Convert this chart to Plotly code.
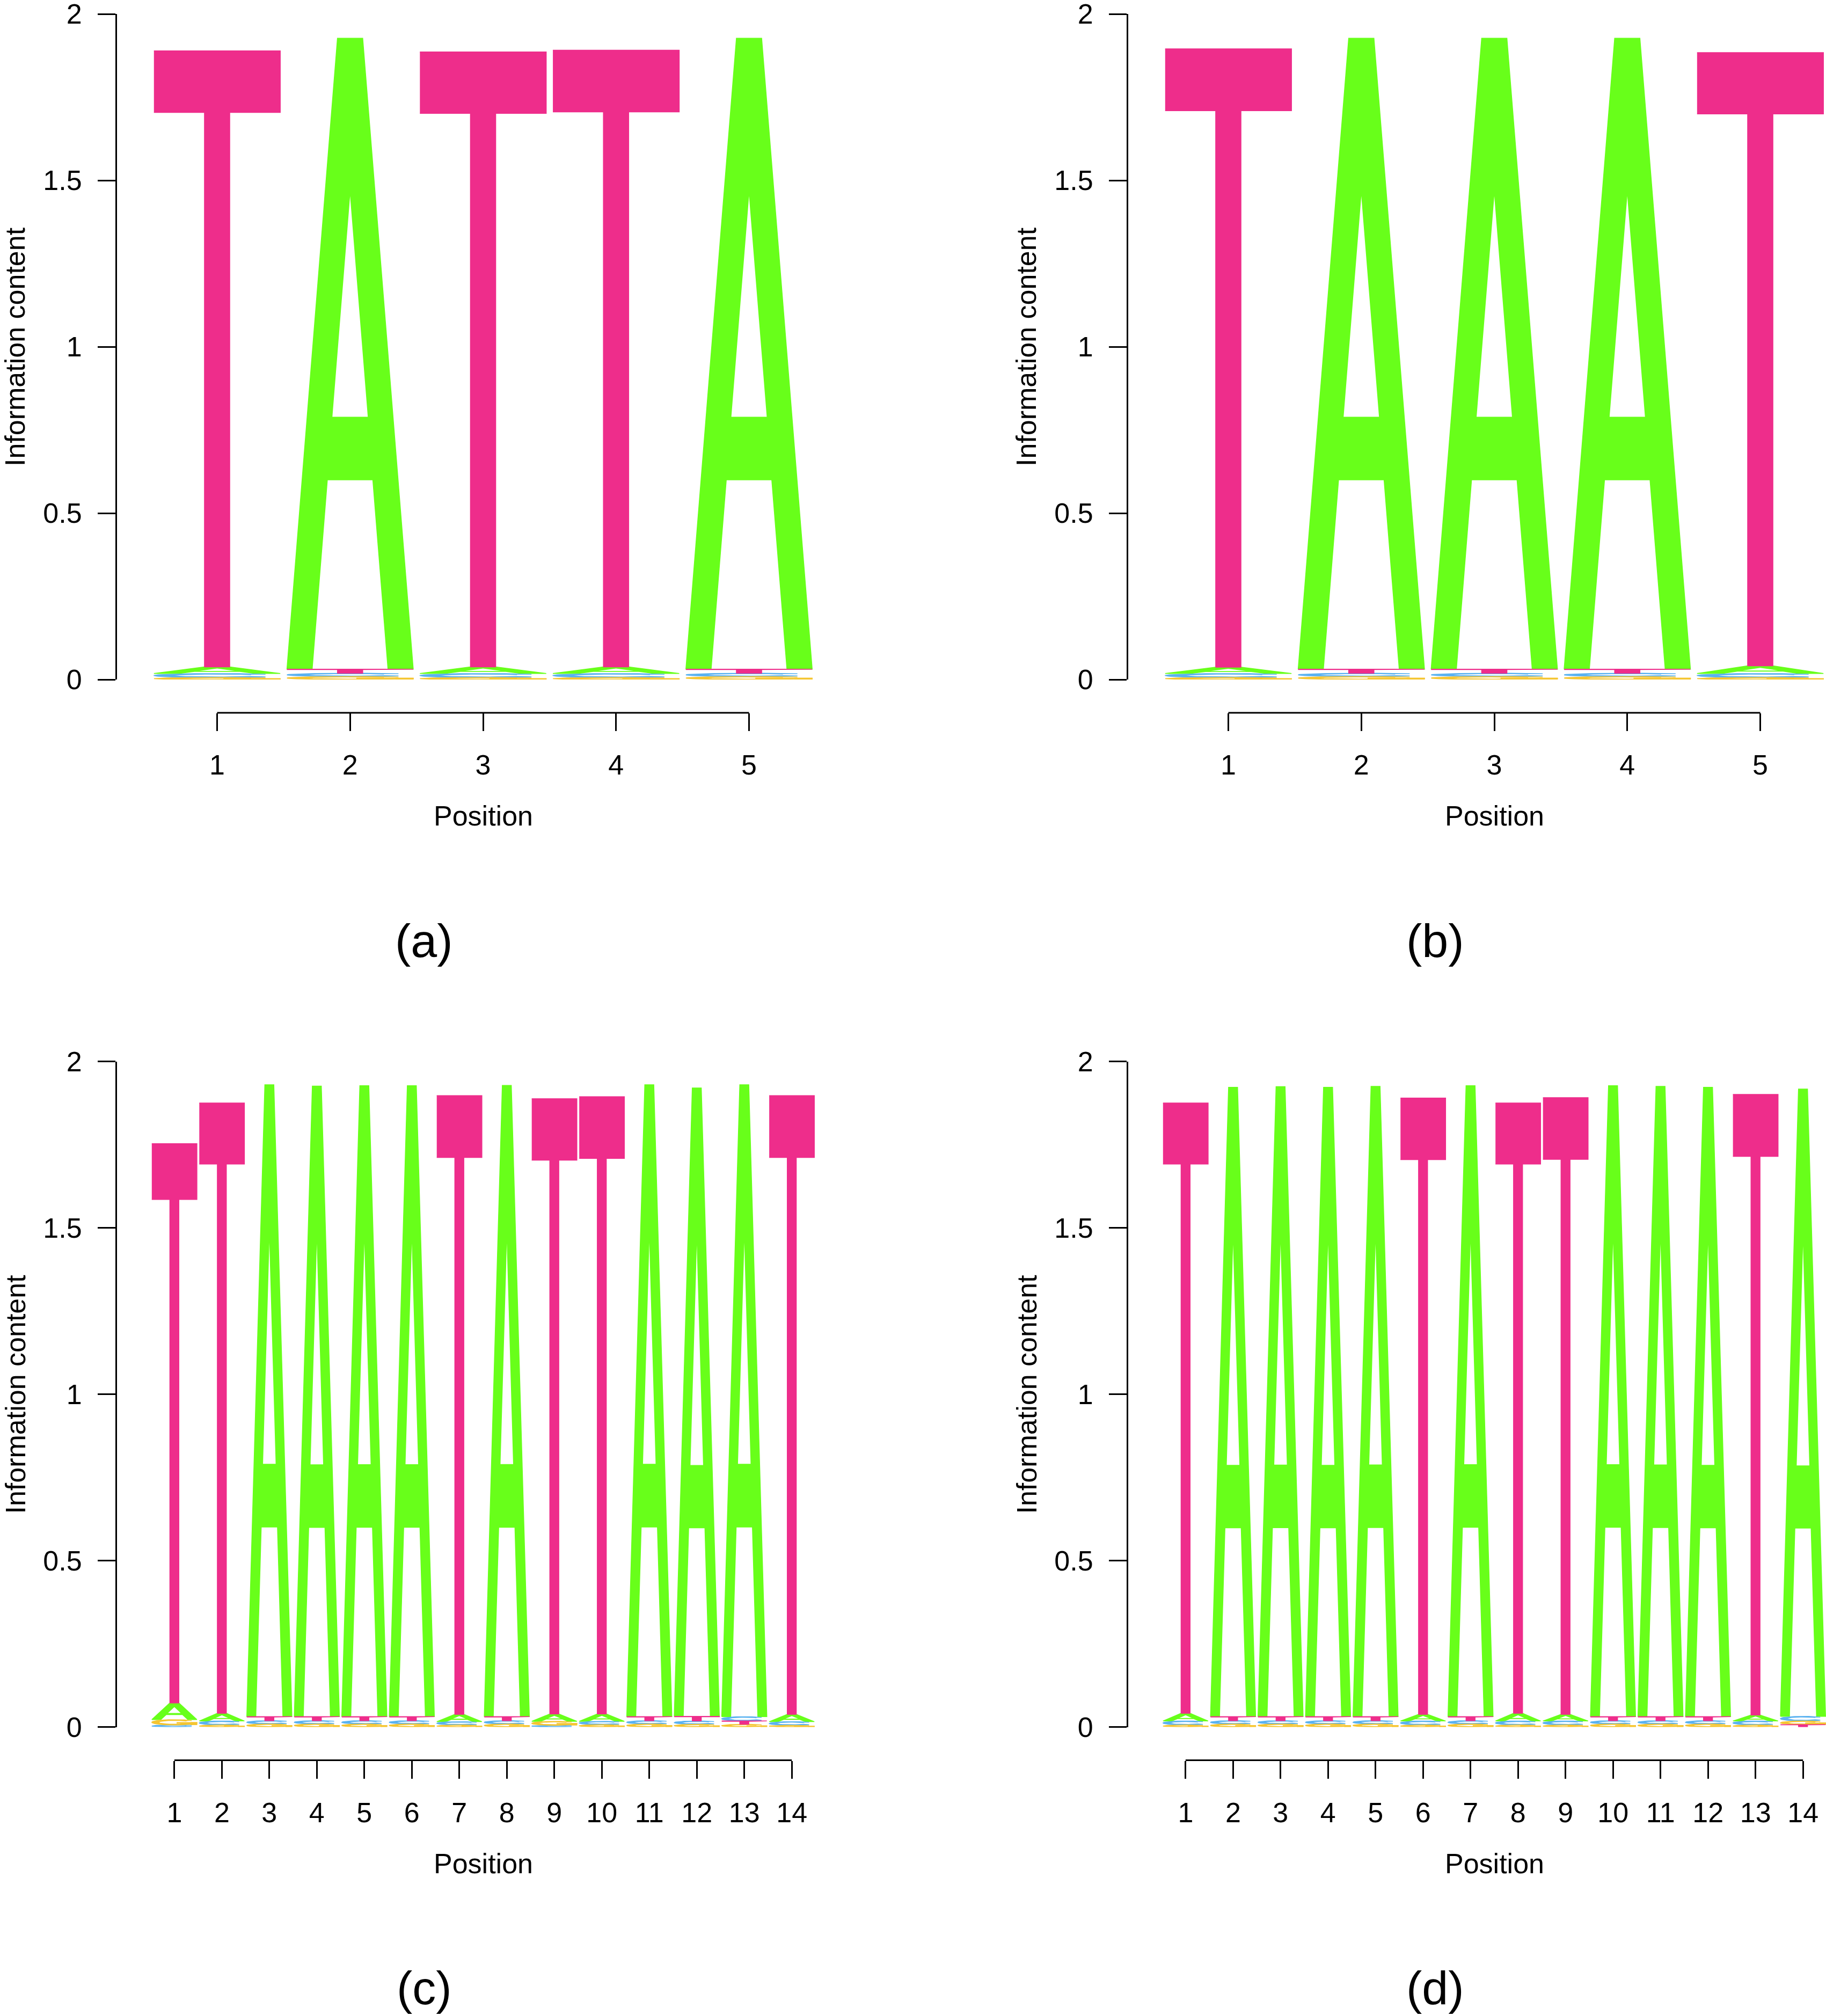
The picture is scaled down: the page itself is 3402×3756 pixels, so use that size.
import numpy as np
import plotly.graph_objects as go

W, H = 3402, 3756

# ---------------- data: information content (bits) per nucleotide and position ----------------
PANEL_LABELS = ["(a)", "(b)", "(c)", "(d)"]
NUCLEOTIDES = ["A", "C", "G", "T"]
Y_TICKS = [0, 0.5, 1, 1.5, 2]
Y_TICK_TEXT = ["0", "0.5", "1", "1.5", "2"]

# panel (a): TATTA
A_a = [0.020, 1.896, 0.020, 0.020, 1.896]
C_a = [0.012, 0.010, 0.012, 0.012, 0.010]
G_a = [0.006, 0.009, 0.006, 0.006, 0.009]
T_a = [1.851, 0.012, 1.848, 1.853, 0.012]

# panel (b): TAAAT
A_b = [0.019, 1.896, 1.896, 1.896, 0.023]
C_b = [0.012, 0.010, 0.010, 0.010, 0.012]
G_b = [0.006, 0.009, 0.009, 0.009, 0.006]
T_b = [1.858, 0.012, 0.012, 0.012, 1.843]

# panel (c): TTAAAATATTAAAT
A_c = [0.050, 0.023, 1.899, 1.895, 1.896, 1.896, 0.022, 1.897, 0.022, 0.022, 1.899, 1.888, 1.899, 0.022]
C_c = [0.006, 0.012, 0.010, 0.010, 0.010, 0.010, 0.010, 0.010, 0.005, 0.010, 0.010, 0.010, 0.013, 0.011]
G_c = [0.016, 0.006, 0.009, 0.009, 0.009, 0.009, 0.006, 0.009, 0.012, 0.007, 0.009, 0.008, 0.008, 0.005]
T_c = [1.681, 1.834, 0.012, 0.012, 0.012, 0.012, 1.859, 0.012, 1.849, 1.855, 0.012, 0.014, 0.010, 1.859]

# panel (d): TAAAATATTAAATA
A_d = [0.023, 1.891, 1.893, 1.891, 1.894, 0.020, 1.896, 0.023, 0.020, 1.896, 1.894, 1.891, 0.018, 1.885]
C_d = [0.012, 0.010, 0.010, 0.010, 0.010, 0.012, 0.010, 0.012, 0.012, 0.010, 0.010, 0.010, 0.012, 0.014]
G_d = [0.006, 0.009, 0.009, 0.009, 0.009, 0.006, 0.009, 0.006, 0.006, 0.009, 0.009, 0.009, 0.006, 0.011]
T_d = [1.834, 0.012, 0.012, 0.012, 0.012, 1.852, 0.012, 1.834, 1.853, 0.012, 0.012, 0.012, 1.865, 0.007]

PANELS = [
    {"A": A_a, "C": C_a, "G": G_a, "T": T_a},
    {"A": A_b, "C": C_b, "G": G_b, "T": T_b},
    {"A": A_c, "C": C_c, "G": G_c, "T": T_c},
    {"A": A_d, "C": C_d, "G": G_d, "T": T_d},
]

# ---------------- style ----------------
COLORS = {"A": "#68FF1A", "C": "#5AB2F0", "G": "#F5C531", "T": "#EE2D8B"}
FONT = "Liberation Sans, Arial, Helvetica, sans-serif"
LETTER_W = 0.95
OUTLINE_W = 1.5

# glyph outlines in a unit box (seqLogo-style letters)
def _arc(r, a0, a1, n=48):
    t = np.radians(np.linspace(a0, a1, n))
    return 0.5 + r * np.cos(t), 0.5 + r * np.sin(t)

def _ring(a0, a1):
    ox, oy = _arc(0.5, a0, a1)
    ix, iy = _arc(0.35, a1, a0)
    return np.concatenate([ox, ix]), np.concatenate([oy, iy])

GLYPHS = {
    "A": [(np.array([0, 4, 6, 10, 8, 6.8, 3.2, 2, 0]) / 10, np.array([0, 10, 10, 0, 0, 3, 3, 0, 0]) / 10)],
    "T": [(np.array([0, 10, 10, 6, 6, 4, 4, 0]) / 10, np.array([10, 10, 9, 9, 0, 0, 9, 9]) / 10)],
    "C": [_ring(40, 320)],
    "G": [_ring(40, 320),
          (np.array([0.55, 1.0, 1.0, 0.55]), np.array([0.32, 0.32, 0.46, 0.46])),
          (np.array([0.86, 1.0, 1.0, 0.86]), np.array([0.05, 0.05, 0.46, 0.46]))],
}
HOLE_A = (np.array([3.6, 5, 6.4]) / 10, np.array([4, 7.5, 4]) / 10)

# ---------------- layout geometry (pixels) ----------------
PANEL_OFFSETS = [(0, 0), (1884, 0), (0, 1951.5), (1884, 1951.5)]
YAXIS_X = 218          # y-axis line
LETTERS_L = 280.6      # left edge of position 0.5
LETTERS_SPAN = 1238.8  # width of positions 0.5 .. N+0.5
PLOT_R = 1582
Y2_PX, Y0_PX = 26, 1266
XAXIS_PX = 1328
POS_TITLE_PX = 1520
YTITLE_X = 28
CAPTION = (790, 1752)

fig = go.Figure()
layout = dict(width=W, height=H, margin=dict(l=0, r=0, t=0, b=0, pad=0, autoexpand=False),
              paper_bgcolor="white", plot_bgcolor="white", showlegend=False,
              font=dict(family=FONT, color="black", size=52))
shapes, annotations = [], []

for k, (data, (dx, dy)) in enumerate(zip(PANELS, PANEL_OFFSETS)):
    sfx = "" if k == 0 else str(k + 1)
    N = len(data["A"])
    unit = LETTERS_SPAN / N
    left_px = YAXIS_X + dx
    right_px = min(PLOT_R + dx, W)
    r0 = 0.5 - (LETTERS_L - YAXIS_X) / unit
    r1 = r0 + (right_px - left_px) / unit

    polys = {n: ([], []) for n in NUCLEOTIDES}
    holes = ([], [])
    for i in range(N):
        stack = sorted(((data[n][i], n) for n in NUCLEOTIDES), key=lambda t: t[0])
        base = 0.0
        xc = i + 1
        for h, n in stack:
            for gx, gy in GLYPHS[n]:
                polys[n][0].extend(list(xc - LETTER_W / 2 + LETTER_W * gx) + [None])
                polys[n][1].extend(list(base + h * gy) + [None])
            if n == "A":
                holes[0].extend(list(xc - LETTER_W / 2 + LETTER_W * HOLE_A[0]) + [None])
                holes[1].extend(list(base + h * HOLE_A[1]) + [None])
            base += h
    for n in NUCLEOTIDES:
        fig.add_trace(go.Scatter(x=polys[n][0], y=polys[n][1], mode="lines", fill="toself",
                                 fillcolor=COLORS[n], line=dict(width=OUTLINE_W, color=COLORS[n]),
                                 hoverinfo="skip", xaxis="x" + sfx, yaxis="y" + sfx))
    fig.add_trace(go.Scatter(x=holes[0], y=holes[1], mode="lines", fill="toself",
                             fillcolor="white", line=dict(width=0, color="white"),
                             hoverinfo="skip", xaxis="x" + sfx, yaxis="y" + sfx))

    xpos = 1 - (XAXIS_PX + dy) / H
    layout["xaxis" + sfx] = dict(
        domain=[left_px / W, right_px / W], range=[r0, r1], anchor="free", position=xpos,
        automargin=False, showline=False, showgrid=False, zeroline=False, ticks="outside",
        ticklen=33, tickwidth=3, tickcolor="black", tickvals=list(range(1, N + 1)),
        ticktext=[str(v) for v in range(1, N + 1)], tickfont=dict(size=52, family=FONT),
        ticklabelstandoff=19, ticklabeloverflow="allow", fixedrange=True)
    layout["yaxis" + sfx] = dict(
        domain=[1 - (Y0_PX + dy) / H, 1 - (Y2_PX + dy) / H], range=[0, 2], anchor="x" + sfx,
        automargin=False, showline=True, linewidth=3, linecolor="black", showgrid=False,
        zeroline=False, ticks="outside", ticklen=33, tickwidth=3, tickcolor="black",
        tickvals=Y_TICKS, ticktext=Y_TICK_TEXT, tickfont=dict(size=52, family=FONT),
        ticklabelstandoff=19, ticklabeloverflow="allow", fixedrange=True)
    shapes.append(dict(type="line", xref="x" + sfx, yref="paper", x0=1, x1=N, y0=xpos, y1=xpos,
                       line=dict(color="black", width=3)))
    annotations.append(dict(text="Position", xref="x" + sfx, yref="paper", x=(N + 1) / 2,
                            y=1 - (POS_TITLE_PX + dy) / H, xanchor="center", yanchor="middle",
                            showarrow=False, font=dict(size=52, family=FONT)))
    annotations.append(dict(text="Information content", xref="paper", yref="paper",
                            x=(YTITLE_X + dx) / W, y=1 - (Y0_PX + Y2_PX + 2 * dy) / 2 / H,
                            xanchor="center", yanchor="middle", textangle=-90, showarrow=False,
                            font=dict(size=52, family=FONT)))
    annotations.append(dict(text=PANEL_LABELS[k], xref="paper", yref="paper",
                            x=(CAPTION[0] + dx) / W, y=1 - (CAPTION[1] + dy) / H,
                            xanchor="center", yanchor="middle", showarrow=False,
                            font=dict(size=88, family=FONT)))

layout["shapes"] = shapes
layout["annotations"] = annotations
fig.update_layout(**layout)
fig.write_html("out.html")
